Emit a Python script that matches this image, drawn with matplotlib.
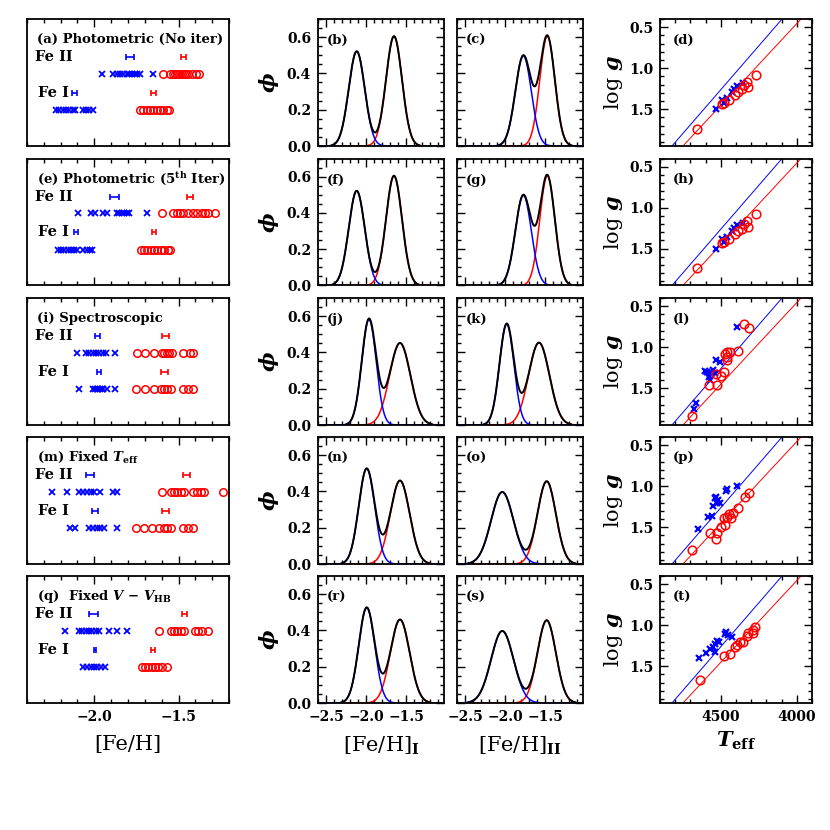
import numpy as np
import matplotlib
matplotlib.use("Agg")
import matplotlib.pyplot as plt
from matplotlib.ticker import MultipleLocator

plt.rcParams["font.family"] = "DejaVu Serif"
plt.rcParams["mathtext.fontset"] = "dejavuserif"
plt.rcParams["font.weight"] = "bold"

BLUE, RED = "#0000ff", "#ff0000"

# ---- column 1: per-star [Fe/H] from Fe I / Fe II lines (blue = metal-poor, red = metal-rich)
TITLES = ["(a) Photometric (No iter)",
          r"(e) Photometric (5$^{\mathbf{th}}$ Iter)",
          "(i) Spectroscopic",
          r"(m) Fixed $T_{\mathbf{eff}}$",
          r"(q)  Fixed $V$ $-$ $V_{\mathbf{HB}}$"]

FE2_BLUE = [
    [-1.953, -1.887, -1.867, -1.848, -1.828, -1.808, -1.792, -1.778, -1.758, -1.745, -1.729, -1.650],
    [-2.095, -2.022, -1.996, -1.947, -1.923, -1.867, -1.852, -1.838, -1.824, -1.808, -1.792, -1.685],
    [-2.101, -2.050, -2.030, -2.010, -1.990, -1.970, -1.951, -1.931, -1.877],
    [-2.253, -2.160, -2.089, -2.066, -2.042, -2.022, -2.002, -1.966, -1.887, -1.867],
    [-2.174, -2.091, -2.071, -2.051, -2.032, -2.012, -1.992, -1.972, -1.911, -1.867, -1.808],
]
FE2_RED = [
    [-1.594, -1.548, -1.535, -1.521, -1.508, -1.495, -1.481, -1.468, -1.455, -1.442, -1.422, -1.396, -1.376],
    [-1.600, -1.535, -1.511, -1.491, -1.472, -1.442, -1.412, -1.388, -1.362, -1.343, -1.323, -1.283],
    [-1.749, -1.699, -1.646, -1.600, -1.586, -1.570, -1.555, -1.541, -1.475, -1.432, -1.416],
    [-1.600, -1.546, -1.527, -1.507, -1.487, -1.467, -1.416, -1.392, -1.368, -1.349, -1.238],
    [-1.616, -1.546, -1.527, -1.507, -1.487, -1.467, -1.402, -1.382, -1.362, -1.323],
]
FE1_BLUE = [
    [-2.228, -2.208, -2.188, -2.168, -2.149, -2.129, -2.115, -2.069, -2.050, -2.030, -2.010],
    [-2.218, -2.198, -2.178, -2.158, -2.139, -2.119, -2.100, -2.065, -2.046, -2.026, -2.012],
    [-2.091, -2.006, -1.996, -1.986, -1.976, -1.966, -1.957, -1.947, -1.927, -1.877],
    [-2.144, -2.115, -2.030, -2.006, -1.986, -1.966, -1.943, -1.867],
    [-2.066, -2.042, -2.022, -2.002, -1.982, -1.962, -1.937],
]
FE1_RED = [
    [-1.729, -1.709, -1.689, -1.669, -1.650, -1.630, -1.610, -1.590, -1.570, -1.555],
    [-1.725, -1.705, -1.685, -1.665, -1.645, -1.625, -1.605, -1.585, -1.565, -1.550],
    [-1.753, -1.699, -1.646, -1.606, -1.586, -1.566, -1.546, -1.471, -1.442, -1.416],
    [-1.753, -1.705, -1.659, -1.614, -1.586, -1.566, -1.546, -1.471, -1.442, -1.412],
    [-1.719, -1.699, -1.679, -1.659, -1.640, -1.620, -1.600, -1.570],
]
# group means and their errors
FE2_MEAN_BLUE = [-1.788, -1.881, -1.982, -2.026, -2.006]
FE2_ERR_BLUE = [0.025, 0.025, 0.015, 0.025, 0.025]
FE2_MEAN_RED = [-1.472, -1.432, -1.578, -1.452, -1.466]
FE2_ERR_RED = [0.015, 0.020, 0.020, 0.020, 0.015]
FE1_MEAN_BLUE = [-2.115, -2.109, -1.972, -1.996, -1.996]
FE1_ERR_BLUE = [0.015, 0.012, 0.012, 0.015, 0.008]
FE1_MEAN_RED = [-1.646, -1.645, -1.582, -1.576, -1.651]
FE1_ERR_RED = [0.015, 0.012, 0.020, 0.020, 0.010]

# ---- columns 2/3: two-component Gaussian fits (mu, sigma, peak) blue then red
LETTERS_FE1 = ["(b)", "(f)", "(j)", "(n)", "(r)"]
LETTERS_FE2 = ["(c)", "(g)", "(k)", "(o)", "(s)"]
GMM_FE1 = [
    [(-2.116, 0.10, 0.522), (-1.650, 0.100, 0.605)],
    [(-2.116, 0.10, 0.522), (-1.650, 0.100, 0.605)],
    [(-1.963, 0.09, 0.582), (-1.575, 0.130, 0.452)],
    [(-1.991, 0.10, 0.526), (-1.575, 0.120, 0.460)],
    [(-1.991, 0.10, 0.526), (-1.575, 0.120, 0.460)],
]
GMM_FE2 = [
    [(-1.771, 0.10, 0.497), (-1.471, 0.094, 0.605)],
    [(-1.771, 0.10, 0.497), (-1.471, 0.094, 0.605)],
    [(-1.979, 0.09, 0.556), (-1.575, 0.130, 0.454)],
    [(-2.034, 0.14, 0.397), (-1.479, 0.115, 0.456)],
    [(-2.034, 0.14, 0.397), (-1.479, 0.115, 0.456)],
]

# ---- column 4: Teff vs log g
LETTERS_HR = ["(d)", "(h)", "(l)", "(p)", "(t)"]
TEFF_BLUE = [
    [4532, 4494, 4461, 4428, 4395, 4356, 4480, 4410],
    [4532, 4494, 4461, 4428, 4395, 4356, 4480, 4410],
    [4663, 4676, 4593, 4576, 4576, 4553, 4532, 4505, 4538, 4395, 4604, 4571],
    [4652, 4582, 4560, 4553, 4538, 4527, 4516, 4505, 4532, 4466, 4457, 4395],
    [4643, 4597, 4571, 4549, 4538, 4538, 4527, 4512, 4472, 4466, 4451, 4428],
]
LOGG_BLUE = [
    [1.502, 1.388, 1.360, 1.287, 1.217, 1.185, 1.420, 1.250],
    [1.502, 1.388, 1.360, 1.287, 1.217, 1.185, 1.420, 1.250],
    [1.685, 1.758, 1.299, 1.319, 1.368, 1.278, 1.156, 1.177, 1.319, 0.757, 1.290, 1.400],
    [1.522, 1.380, 1.364, 1.242, 1.148, 1.209, 1.169, 1.209, 1.128, 1.055, 1.038, 0.994],
    [1.404, 1.343, 1.294, 1.270, 1.324, 1.230, 1.189, 1.202, 1.108, 1.080, 1.120, 1.140],
]
TEFF_RED = [
    [4659, 4494, 4444, 4407, 4385, 4363, 4347, 4330, 4319, 4270, 4480],
    [4659, 4494, 4444, 4407, 4385, 4363, 4347, 4330, 4319, 4270, 4480],
    [4691, 4576, 4527, 4530, 4501, 4477, 4472, 4461, 4439, 4457, 4461, 4389, 4345, 4316],
    [4691, 4571, 4532, 4527, 4499, 4472, 4477, 4461, 4444, 4435, 4418, 4389, 4341, 4314],
    [4637, 4477, 4439, 4407, 4391, 4374, 4356, 4326, 4319, 4290, 4286, 4275],
]
LOGG_RED = [
    [1.742, 1.437, 1.388, 1.327, 1.287, 1.258, 1.205, 1.165, 1.234, 1.083, 1.420],
    [1.742, 1.437, 1.388, 1.327, 1.287, 1.258, 1.205, 1.165, 1.234, 1.083, 1.420],
    [1.840, 1.461, 1.461, 1.327, 1.352, 1.299, 1.083, 1.055, 1.055, 1.116, 1.156, 1.047, 0.721, 0.770],
    [1.779, 1.575, 1.648, 1.567, 1.502, 1.474, 1.392, 1.372, 1.339, 1.392, 1.323, 1.270, 1.128, 1.080],
    [1.669, 1.376, 1.352, 1.270, 1.242, 1.202, 1.202, 1.132, 1.092, 1.100, 1.059, 1.019],
]
# reference relations (same in every row)
LINE_BLUE_TEFF, LINE_BLUE_LOGG = [4821, 4097], [1.95, 0.40]
LINE_RED_TEFF, LINE_RED_LOGG = [4749, 3972], [1.95, 0.40]

# ---- layout in pixels of the 830x830 frame
W = H = 830
COL_LEFT = [27, 318, 457, 660]
COL_WIDTH = [202, 126, 126, 152]
ROW_TOP = [19, 158.5, 298, 437, 576]
ROW_H = 127


def make_ax(fig, col, row):
    l, w, t = COL_LEFT[col], COL_WIDTH[col], ROW_TOP[row]
    return fig.add_axes([l / W, 1 - (t + ROW_H) / H, w / W, ROW_H / H])


def style(ax, xmaj, xmin, ymaj=None, ymin=None):
    ax.xaxis.set_major_locator(MultipleLocator(xmaj))
    ax.xaxis.set_minor_locator(MultipleLocator(xmin))
    if ymaj:
        ax.yaxis.set_major_locator(MultipleLocator(ymaj))
        ax.yaxis.set_minor_locator(MultipleLocator(ymin))
    ax.tick_params(which="both", direction="in", top=True, right=True,
                   width=1.0, labelsize=10, pad=5)
    ax.tick_params(which="major", length=6)
    ax.tick_params(which="minor", length=3)
    for s in ax.spines.values():
        s.set_linewidth(1.3)


fig = plt.figure(figsize=(8.3, 8.3), dpi=100)
grid = np.linspace(-2.6, -1.025, 500)

for r in range(5):
    last = r == 4

    # column 1
    ax = make_ax(fig, 0, r)
    ax.set_xlim(-2.4, -1.2)
    ax.set_ylim(0, 1)
    style(ax, 0.5, 0.1)
    ax.set_yticks([])
    ax.text(0.05, 0.84, TITLES[r], transform=ax.transAxes, fontsize=9.5, va="center")
    ax.text(0.04, 0.70, "Fe II", transform=ax.transAxes, fontsize=10.5, va="center")
    ax.text(0.055, 0.42, "Fe I", transform=ax.transAxes, fontsize=10.5, va="center")
    for vals, yy in [(FE2_BLUE[r], 0.57), (FE1_BLUE[r], 0.28)]:
        ax.plot(vals, [yy] * len(vals), "x", color=BLUE, ms=4.4, mew=1.3)
    for vals, yy in [(FE2_RED[r], 0.57), (FE1_RED[r], 0.28)]:
        ax.plot(vals, [yy] * len(vals), "o", mfc="none", mec=RED, ms=5.4, mew=1.1)
    for m, e, yy, c in [(FE2_MEAN_BLUE[r], FE2_ERR_BLUE[r], 0.70, BLUE),
                        (FE2_MEAN_RED[r], FE2_ERR_RED[r], 0.70, RED),
                        (FE1_MEAN_BLUE[r], FE1_ERR_BLUE[r], 0.42, BLUE),
                        (FE1_MEAN_RED[r], FE1_ERR_RED[r], 0.42, RED)]:
        ax.errorbar(m, yy, xerr=e, fmt="none", ecolor=c, elinewidth=1.2,
                    capsize=2.3, capthick=1.2)
    if last:
        ax.set_xlabel("[Fe/H]", fontsize=15, fontweight="normal", labelpad=8)
    else:
        ax.set_xticklabels([])

    # columns 2 and 3
    for col, gmm, letters, lab in [(1, GMM_FE1, LETTERS_FE1, r"[Fe/H]$_{\rm I}$"),
                                   (2, GMM_FE2, LETTERS_FE2, r"[Fe/H]$_{\rm II}$")]:
        ax = make_ax(fig, col, r)
        ax.set_xlim(-2.6, -1.025)
        ax.set_ylim(0, 0.7)
        style(ax, 0.5, 0.1, 0.2, 0.05)
        (mb, sb, ab), (mr, sr, ar) = gmm[r]
        yb = ab * np.exp(-0.5 * ((grid - mb) / sb) ** 2)
        yr = ar * np.exp(-0.5 * ((grid - mr) / sr) ** 2)
        tot = yb + yr
        ax.plot(grid, yr, color=RED, lw=1.1)
        ax.plot(grid, yb, color=BLUE, lw=1.1)
        ax.plot(grid, np.where(tot > 0.004, tot, np.nan), color="black", lw=1.4)
        ax.text(0.07, 0.83, letters[r], transform=ax.transAxes, fontsize=9.5, va="center")
        if col == 1:
            ax.set_ylabel(r"$\phi$", fontsize=15, fontweight="normal", labelpad=4)
        else:
            ax.set_yticklabels([])
        if last:
            ax.set_xlabel(lab, fontsize=15, fontweight="normal", labelpad=8)
        else:
            ax.set_xticklabels([])

    # column 4
    ax = make_ax(fig, 3, r)
    ax.set_xlim(4900, 3900)
    ax.set_ylim(1.95, 0.4)
    style(ax, 500, 100, 0.5, 0.1)
    ax.plot(LINE_BLUE_TEFF, LINE_BLUE_LOGG, color=BLUE, lw=0.7)
    ax.plot(LINE_RED_TEFF, LINE_RED_LOGG, color=RED, lw=0.7)
    ax.plot(TEFF_BLUE[r], LOGG_BLUE[r], "x", color=BLUE, ms=4.6, mew=1.6)
    ax.plot(TEFF_RED[r], LOGG_RED[r], "o", mfc="none", mec=RED, ms=6.2, mew=1.1)
    ax.text(0.085, 0.835, LETTERS_HR[r], transform=ax.transAxes, fontsize=9.5, va="center")
    ax.set_ylabel(r"log $g$", fontsize=15, fontweight="normal", labelpad=3)
    if last:
        ax.set_xlabel(r"$T_{\mathbf{eff}}$", fontsize=15, fontweight="normal", labelpad=4)
    else:
        ax.set_xticklabels([])

fig.savefig("out.png", dpi=100)
